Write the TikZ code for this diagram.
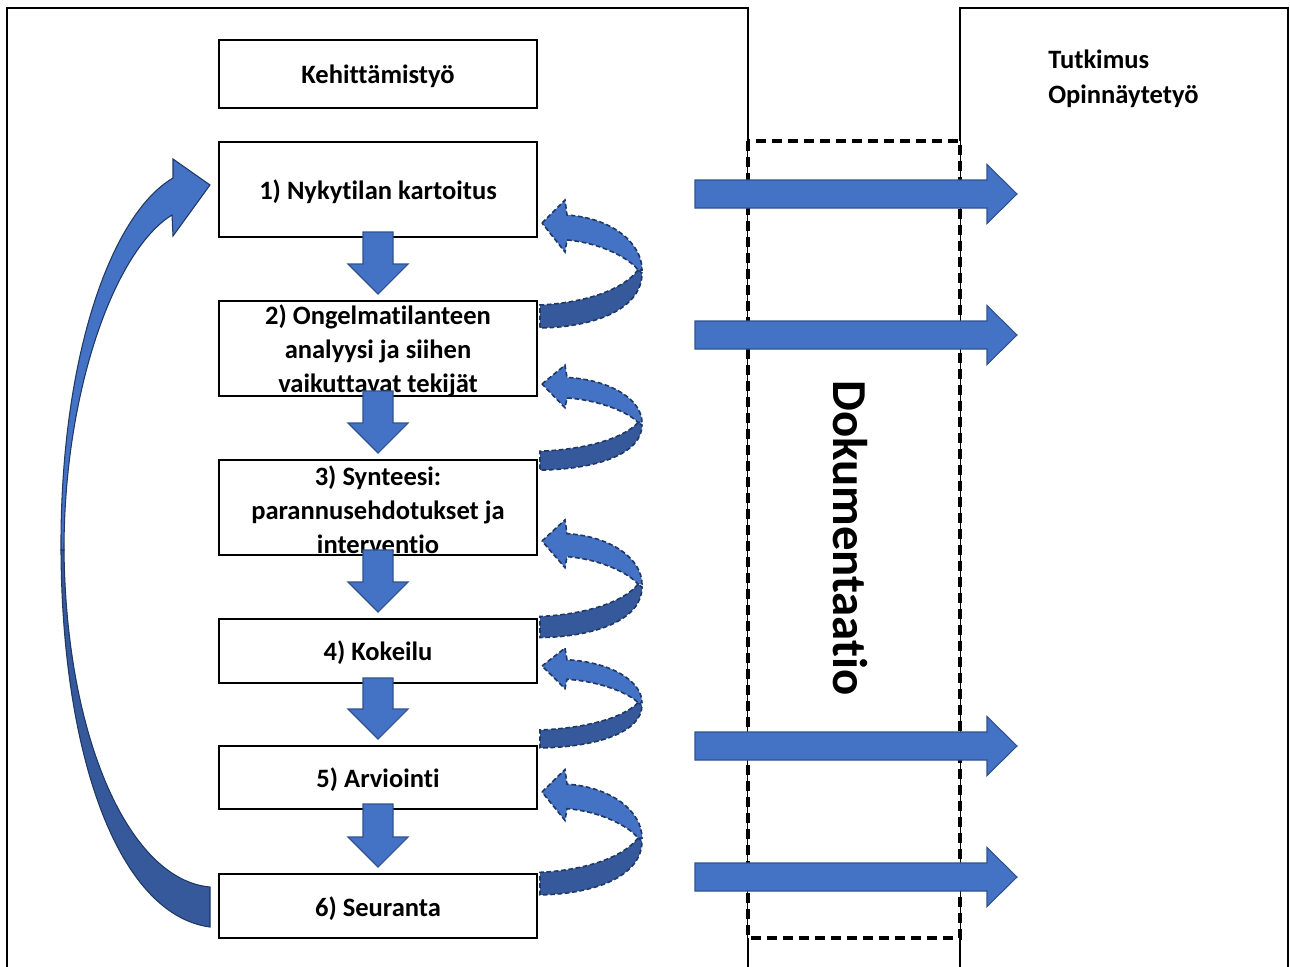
\documentclass[tikz,border=0pt]{standalone}
\usepackage{fontspec}
\setmainfont{Carlito}[Ligatures=NoCommon]
\usetikzlibrary{calc}
\definecolor{lblue}{HTML}{4472C4}
\definecolor{dblue}{HTML}{35599B}
\definecolor{navy}{HTML}{1F3864}
\definecolor{olblue}{HTML}{2F528F}
\tikzset{
  frame/.style={draw=black, line width=1.5pt},
  dashbox/.style={draw=black, fill=white, line width=2.4pt, dash pattern=on 7.5pt off 4.5pt},
  box/.style={draw=black, line width=1.5pt, fill=white, minimum width=238.5pt, inner sep=0pt},
  lbl/.style={align=center, inner sep=0pt, font=\fontsize{19.9pt}{25.5pt}\selectfont\bfseries},
  blk/.style={fill=lblue, draw=olblue, line width=0.8pt, line join=miter},
  curllight/.style={fill=lblue, draw=navy, line width=1.2pt, dash pattern=on 3.5pt off 2pt},
  curldark/.style={fill=dblue, draw=navy, line width=1.2pt, dash pattern=on 3.5pt off 2pt},
  bigl/.style={fill=lblue, draw=navy, line width=0.8pt},
  bigd/.style={fill=dblue, draw=navy, line width=0.8pt},
}
\newcommand\dnarrow[2]{%
  \draw[blk] ($(#1.south)+(-15,-6)$) -- ($(#1.south)+(15,-6)$) -- ($(#2.north)+(15,-36)$)
    -- ($(#2.north)+(30,-36)$) -- ($(#2.north)+(0,-6)$) -- ($(#2.north)+(-30,-36)$)
    -- ($(#2.north)+(-15,-36)$) -- cycle;}
\newcommand\rarrow[1]{%
  \begin{scope}[shift={(0,#1)}]
  \draw[blk] (695,-14) -- (987,-14) -- (987,-29.5) -- (1017,0) -- (987,29.5) -- (987,14) -- (695,14) -- cycle;
  \end{scope}}
\newcommand\curl[3]{%
  \begin{scope}[shift={(#1,#2)}, yscale=#3]
  \draw[curldark] (96,47) .. controls (80,68) and (40,80) .. (-2,82) -- (-2,105)
     .. controls (55,104) and (100,85) .. (100,50) -- cycle;
  \draw[curllight] (0,0) -- (23,-23) -- (25,-8) .. controls (70,-5) and (100,20) .. (100,47)
     -- (96,47) .. controls (88,36) and (60,20) .. (25,17) -- (23,29) -- cycle;
  \end{scope}}
\begin{document}
\begin{tikzpicture}[x=0.75pt, y=-0.75pt]
\useasboundingbox (0,0) rectangle (1290,967);
% frames
\draw[frame] (7,985) -- (7,8) -- (748,8) -- (748,985);
\draw[frame] (960,985) -- (960,8) -- (1288,8) -- (1288,985);
\draw[dashbox] (748,141) rectangle (960,938);
% boxes
\node[box, minimum height=51pt] (k) at (378,74) {};
\node[lbl] (kt) at ($(k.center)+(0,2)$) {Kehittämistyö};
\node[box, minimum height=71.25pt] (b1) at (378,189.5) {};
\node[box, minimum height=71.25pt] (b2) at (378,348.5) {};
\node[box, minimum height=71.25pt] (b3) at (378,507.5) {};
\node[box, minimum height=48pt] (b4) at (378,651) {};
\node[box, minimum height=47.25pt] (b5) at (378,777.5) {};
\node[box, minimum height=48pt] (b6) at (378,906) {};
\node[lbl] (t1) at ($(b1.center)+(0,2)$) {1) Nykytilan kartoitus};
\node[lbl] (t2) at ($(b2.center)+(0,2.5)$) {2) Ongelmatilanteen\\analyysi ja siihen\\vaikuttavat tekijät};
\node[lbl] (t3) at ($(b3.center)+(0,2)$) {3) Synteesi:\\parannusehdotukset ja\\interventio};
\node[lbl] (t4) at ($(b4.center)+(0,2)$) {4) Kokeilu};
\node[lbl] (t5) at ($(b5.center)+(0,2)$) {5) Arviointi};
\node[lbl] (t6) at ($(b6.center)+(0,2.5)$) {6) Seuranta};
% down arrows
\dnarrow{b1}{b2}
\dnarrow{b2}{b3}
\dnarrow{b3}{b4}
\dnarrow{b4}{b5}
\dnarrow{b5}{b6}
% curls
\curl{542}{223}{1}
\curl{542}{384}{0.82}
\curl{542}{541}{0.92}
\curl{542}{666}{0.78}
\curl{542}{792}{0.98}
% big left arrow
\draw[bigd] (61,550) .. controls (62,760) and (120,915) .. (210,927) -- (210,887)
   .. controls (130,880) and (66,740) .. (64,550) -- cycle;
\draw[bigl] (61,550) .. controls (60,360) and (110,215) .. (173,178) -- (173,159) -- (210,185)
   -- (173,236) -- (172,215) .. controls (115,250) and (64,390) .. (64,550) -- cycle;
% right arrows
\rarrow{194}
\rarrow{335}
\rarrow{746}
\rarrow{877}
% texts
\node[anchor=west, align=left, inner sep=0pt, font=\fontsize{19.9pt}{26.25pt}\selectfont\bfseries] (tut) at (1048,78.5) {Tutkimus\\Opinnäytetyö};
\node[rotate=-90, inner sep=0pt, font=\fontsize{36.6pt}{40pt}\selectfont\bfseries] (doc) at (850,538) {Dokumentaatio};
\end{tikzpicture}
\end{document}
